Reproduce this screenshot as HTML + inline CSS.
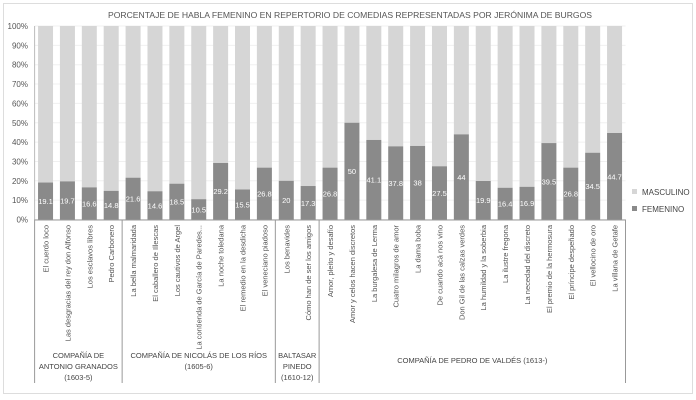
<!DOCTYPE html>
<html><head><meta charset="utf-8">
<style>
body{margin:0;background:#fff;}
svg{display:block;font-family:"Liberation Sans",sans-serif;}
</style></head>
<body>
<svg id="chart" width="696" height="400">
<rect x="3.5" y="3.5" width="689" height="390" fill="#fff" stroke="#ddd"/>
<text x="350" y="18" text-anchor="middle" font-size="8.6" fill="#555">PORCENTAJE DE HABLA FEMENINO EN REPERTORIO DE COMEDIAS REPRESENTADAS POR JERÓNIMA DE BURGOS</text>
<g id="grid"></g><g id="bars"></g><g id="axis"></g>
<g>
<rect x="632" y="189" width="5" height="5" fill="#d6d6d6"/>
<text x="642" y="195" font-size="8" fill="#444">MASCULINO</text>
<rect x="632" y="206" width="5" height="5" fill="#8a8a8a"/>
<text x="642" y="212" font-size="8" fill="#444">FEMENINO</text>
</g>
</svg>
<script>
const categories=["El cuerdo loco","Las desgracias del rey don Alfonso","Los esclavos libres","Pedro Carbonero","La bella malmaridada","El caballero de Illescas","Los cautivos de Argel","La contienda de García de Paredes...","La noche toledana","El remedio en la desdicha","El veneciano piadoso","Los benavides","Cómo han de ser los amigos","Amor, pleito y desafío","Amor y celos hacen discretos","La burgalesa de Lerma","Cuatro milagros de amor","La dama boba","De cuando acá nos vino","Don Gil de las calzas verdes","La humildad y la soberbia","La ilustre fregona","La necedad del discreto","El premio de la hermosura","El príncipe despeñado","El vellocino de oro","La villana de Getafe"];
const femenino=[19.1,19.7,16.6,14.8,21.6,14.6,18.5,10.5,29.2,15.5,26.8,20,17.3,26.8,50,41.1,37.8,38,27.5,44,19.9,16.4,16.9,39.5,26.8,34.5,44.7];
const groupNames=[["COMPAÑÍA DE","ANTONIO GRANADOS","(1603-5)"],["COMPAÑÍA DE NICOLÁS DE LOS RÍOS","(1605-6)"],["BALTASAR","PINEDO","(1610-12)"],["COMPAÑÍA DE PEDRO DE VALDÉS (1613-)"]];
const groupSizes=[4,7,2,14];
const yTicks=[0,10,20,30,40,50,60,70,80,90,100];

const NS="http://www.w3.org/2000/svg";
const X0=34.6,X1=625.5,Y0=219.5,Y1=26;
const step=(X1-X0)/categories.length;
const xs=i=>X0+step*(i+0.5);
const ys=v=>Y0-(Y0-Y1)*v/100;
function mk(tag,attrs,parent){const e=document.createElementNS(NS,tag);for(const k in attrs)e.setAttribute(k,attrs[k]);parent.appendChild(e);return e;}
const grid=document.getElementById('grid'),bars=document.getElementById('bars'),axis=document.getElementById('axis');
yTicks.forEach(t=>{
  const l=mk('line',{x1:X0,x2:X1,y1:ys(t),y2:ys(t),stroke:'#f0f0f0'},grid);
  
  
  const tx=mk('text',{x:28,y:ys(t)+3,'text-anchor':'end','font-size':'8',fill:'#555'},axis);
  tx.textContent=t+'%';
  
  
});
const bw=15;
categories.forEach((c,i)=>{
  const v=femenino[i],cx=xs(i);
  const m=mk('rect',{x:cx-bw/2,y:ys(100),width:bw,height:ys(v)-ys(100),fill:'#d6d6d6'},bars);
  
  
  const f=mk('rect',{x:cx-bw/2,y:ys(v),width:bw,height:Y0-ys(v),fill:'#8a8a8a'},bars);
  
  
  const vl=mk('text',{x:cx,y:(ys(v)+Y0)/2+3,'text-anchor':'middle','font-size':'7.5',fill:'#fff'},bars);
  vl.textContent=v;
  
  
  const cl=mk('text',{x:0,y:0,'text-anchor':'end','font-size':'7.5',fill:'#555',transform:`translate(${cx+3},225) rotate(-90)`},axis);
  cl.textContent=c;
  
  
});
mk('line',{x1:X0,x2:X0,y1:Y1,y2:Y0,stroke:'#bbb'},axis);
mk('line',{x1:X0,x2:X1,y1:Y0+0.5,y2:Y0+0.5,stroke:'#999'},axis);
let start=0;
const bounds=[X0];
groupSizes.forEach(s=>{start+=s;bounds.push(X0+step*start);});
bounds.forEach((b,k)=>{
  const l=mk('line',{x1:b,x2:b,y1:Y0,y2:383,stroke:'#999'},axis);
  
  
});
groupNames.forEach((lines,g)=>{
  const cx=(bounds[g]+bounds[g+1])/2;
  const y0=g===3?363:358;
  lines.forEach((t,j)=>{
    const tx=mk('text',{x:cx,y:y0+j*11,'text-anchor':'middle','font-size':'7.5',fill:'#444'},axis);
    tx.textContent=t;
    
    
  });
});
</script>
</body></html>
